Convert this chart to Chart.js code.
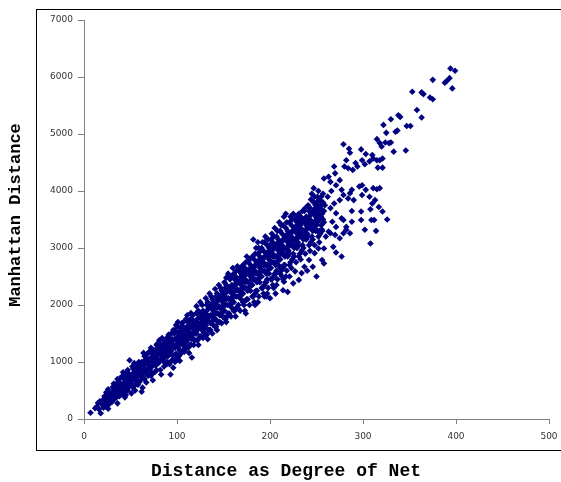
<!DOCTYPE html>
<html lang="en">
<head>
    <meta charset="UTF-8">
    <title>Manhattan Distance vs Degree of Net</title>
    <script src="https://cdn.jsdelivr.net/npm/chart.js"></script>
    <style>
        html, body { margin: 0; padding: 0; background: #fff; }
        canvas { display: block; }
    </style>
</head>
<body>
    <canvas id="scatterChart" width="561" height="482"></canvas>

    <script>
        // Axis ticks
        const xTicks = [0, 100, 200, 300, 400, 500];
        const yTicks = [0, 1000, 2000, 3000, 4000, 5000, 6000, 7000];
        const xTitle = 'Distance as Degree of Net';
        const yTitle = 'Manhattan Distance';

        // Points, [degree, manhattan]
        const bandLow = [
            [7,110],[12,190],[16,170],[18,100],[14,220],[19,260],[17,310],[20,330],[15,280],
            [22,275],[24,360],[26,245],[21,200],[23,310],[25,420],[27,330],[28,450],[29,380],[26,520],[22,400],[28,280],
            [30,300],[32,510],[36,275],[31,390],[33,450],[34,560],[35,620],[37,480],[38,400],[39,540],[36,700],[34,380],[38,650],[32,420],[39,720],
            [40,520],[41,610],[42,440],[43,700],[44,560],[45,780],[46,640],[47,500],[48,720],[49,1030],[47,860],[45,420],[43,480],[49,600],[41,750],[46,820],[44,380],[48,560],
            [50,640],[51,780],[52,560],[53,880],[54,700],[55,820],[56,620],[57,950],[58,760],[59,880],[55,500],[52,920],[57,680],[59,1000],[51,450],[54,980],[58,600],[53,740],[56,860],
            [60,780],[61,900],[62,480],[63,550],[64,1160],[62,1000],[63,820],[65,700],[66,960],[67,1080],[68,860],[69,760],[65,1020],[67,640],[68,1140],[61,680],[64,900],[66,800],[69,1000],[60,980],
            [70,880],[71,1040],[72,760],[73,1160],[74,940],[75,1100],[76,820],[77,1220],[78,1000],[79,1140],[72,1250],[74,680],[76,1050],[78,860],[79,1320],[71,920],[73,800],[75,960],[77,1060],[70,1180],[78,1200],
            [80,980],[81,1160],[82,860],[83,1300],[84,1060],[85,1200],[86,920],[87,1360],[88,1100],[89,1250],[81,1380],[83,780],[85,1050],[87,1140],[89,960],[82,1240],[84,1420],[86,1300],[88,1000],[80,1280],[86,1120],[89,1420],
            [90,1100],[91,1300],[92,960],[93,780],[94,1200],[95,1400],[96,1050],[97,1500],[98,1250],[99,1150],[91,1480],[92,1160],[94,1020],[95,1300],[96,1560],[97,1120],[98,1400],[99,1650],[90,1380],[93,1260],[96,900],[98,1000],[94,1350]
        ];
        const bandMid = [
            [100,1280],[101,1450],[102,1100],[103,1600],[104,1320],[105,1500],[106,1200],[107,1700],[108,1400],[109,1250],[101,1700],[102,1380],[103,1020],[104,1540],[105,1160],[106,1620],[107,1300],[108,1560],[109,1450],[100,1060],[103,1480],[106,1380],[108,1180],
            [110,1350],[111,1560],[112,1250],[113,1700],[114,1450],[115,1600],[116,1080],[117,1820],[118,1500],[119,1380],[111,1820],[112,1460],[113,1160],[114,1650],[115,1300],[116,1500],[117,1620],[118,1720],[119,1560],[110,1240],[112,1640],[115,1760],[118,1300],[116,1400],
            [120,1500],[121,1700],[122,1380],[123,1900],[124,1600],[125,1780],[126,1450],[127,2000],[128,1650],[129,1520],[121,1980],[122,1560],[123,1300],[124,1820],[125,1450],[126,1700],[127,1850],[128,1900],[129,1760],[120,1680],[122,1850],[125,2050],[128,1420],[126,1580],
            [130,1600],[131,1850],[132,1480],[133,2050],[134,1720],[135,1950],[136,1560],[137,2150],[138,1800],[139,1650],[131,2120],[132,1700],[133,1400],[134,1950],[135,1560],[136,1820],[137,2000],[138,2100],[139,1900],[130,1780],[132,2000],[135,2200],[138,1500],[136,1680],
            [140,1750],[141,2000],[142,1620],[143,2200],[144,1850],[145,2100],[146,1700],[147,2300],[148,1950],[149,1800],[141,2280],[142,1850],[143,1560],[144,2100],[145,1700],[146,1950],[147,2150],[148,2250],[149,2050],[140,1950],[142,2150],[145,2350],[148,1680],[146,1820],
            [150,1900],[151,2150],[152,1750],[153,2350],[154,2000],[155,2250],[156,1850],[157,2450],[158,2100],[159,1950],[151,2400],[152,2000],[153,1700],[154,2250],[155,1850],[156,2100],[157,2300],[158,2500],[159,2200],[150,2100],[152,2300],[155,2550],[158,1800],[156,2000],[160,2650],
            [160,2050],[161,2300],[162,1900],[163,2500],[164,2150],[165,2400],[166,2000],[167,2600],[168,2250],[169,2100],[161,2550],[162,2150],[163,1800],[164,2400],[165,1950],[166,2250],[167,2450],[168,2650],[169,2350],[160,2250],[162,2450],[165,2680],[168,1900],[166,2150],[163,2350],[169,2550],
            [170,2200],[171,2450],[172,2000],[173,2650],[174,2300],[175,2550],[176,2100],[177,2750],[178,2400],[179,2250],[171,2700],[172,2300],[173,1900],[174,2550],[175,2100],[176,2400],[177,2600],[178,2800],[179,2500],[170,2400],[172,2600],[175,2850],[178,2000],[176,2250],[173,2450],[179,2700],[174,1850],
            [180,2350],[181,2600],[182,2150],[183,2800],[184,2450],[185,2700],[186,2250],[187,2900],[188,2550],[189,2400],[181,2850],[182,2450],[183,2050],[184,2700],[185,2250],[186,2550],[187,2750],[188,3000],[189,2650],[180,2550],[182,3150],[185,3000],[188,2150],[186,2400],[183,2600],[189,2850],[184,2000],[187,3100],
            [190,2500],[191,2750],[192,2300],[193,2950],[194,2600],[195,2850],[196,2400],[197,3050],[198,2700],[199,2550],[191,3000],[192,2600],[193,2200],[194,2850],[195,2400],[196,2700],[197,2900],[198,3150],[199,2800],[190,2700],[192,3100],[195,3200],[198,2300],[196,2550],[193,2750],[199,3000],[194,2150],[190,2950],[197,2450]
        ];
        const bandHigh = [
            [200,2650],[201,2900],[202,2450],[203,3100],[204,2750],[205,3000],[206,2550],[207,3200],[208,2850],[209,2700],[201,3150],[202,2750],[203,2350],[204,3000],[205,2550],[206,2850],[207,3050],[208,3300],[209,2950],[200,2850],[202,3250],[205,3350],[208,2450],[206,2700],[203,2900],[209,3150],[204,2300],[200,3050],[207,2600],[210,3450],
            [210,2800],[211,3050],[212,2600],[213,3250],[214,2900],[215,3150],[216,2700],[217,3350],[218,3000],[219,2850],[211,3300],[212,2900],[213,2500],[214,3150],[215,2700],[216,3000],[217,3200],[218,3450],[219,3100],[210,3000],[212,3400],[215,3550],[218,2600],[216,2850],[213,3050],[219,3300],[214,2450],[211,2650],[217,3600],
            [220,2950],[221,3200],[222,2750],[223,3400],[224,3050],[225,3300],[226,2850],[227,3500],[228,3150],[229,3000],[221,3450],[222,3050],[223,2650],[224,3300],[225,2900],[226,3150],[227,3350],[228,3550],[229,3250],[220,3150],[222,3550],[225,3600],[228,2750],[226,3000],[223,3200],[229,3450],
            [230,3100],[231,3350],[232,2900],[233,3550],[234,3200],[235,3450],[236,3000],[237,3650],[238,3300],[239,3150],[231,3600],[232,3200],[233,2800],[234,3450],[235,3050],[236,3300],[237,3500],[238,3700],[239,3400],[230,3300],[232,3500],[235,3650],[238,2900],[236,3150],[233,3350],
            [240,3250],[241,3500],[242,3050],[243,3700],[244,3350],[245,3600],[246,3150],[247,3800],[248,3450],[249,3300],[241,3750],[242,3350],[243,2950],[244,3600],[245,3200],[246,3450],[247,3650],[248,3900],[249,3550],[240,3450],[242,3650],[245,3950],[248,3050],[246,3300],[243,3500],[249,3750],[247,4050],[244,3850],
            [250,3400],[251,3650],[252,3200],[253,3850],[254,3500],[255,3750],[256,3300],[257,3950],[251,3900],[252,3500],[253,3100],[254,3700],[255,3400],[256,3600],[257,3800],[258,3650],[250,3600],[252,3750],[255,3550],[250,3800],[253,3300],[251,3450],[257,3500],[259,3750]
        ];
        const bandFill = [
            [21,330],[23,220],[25,300],[27,410],[29,330],[24,470],[26,180],
            [30,450],[31,560],[33,350],[35,480],[37,590],[39,460],[32,620],[36,400],[38,520],
            [40,600],[41,470],[43,620],[44,760],[46,520],[48,650],[49,780],[42,820],[45,580],[47,700],
            [50,720],[51,600],[53,800],[54,580],[56,720],[58,900],[59,640],[52,680],[55,940],[57,800],
            [60,860],[61,760],[63,940],[64,720],[66,880],[68,980],[69,880],[62,900],[65,1100],[67,820],
            [70,1000],[71,860],[72,1080],[74,1000],[75,1200],[77,940],[79,1060],[73,920],[76,1140],[78,1300],
            [80,1140],[81,1020],[82,1320],[83,1120],[85,1300],[86,1000],[88,1180],[89,1340],[84,1240],[87,1220],
            [90,1240],[91,1120],[92,1420],[93,1340],[95,1120],[96,1300],[97,1400],[99,1300],[94,1500],[98,1550],[90,1000],
            [100,1380],[101,1260],[102,1520],[104,1420],[105,1680],[106,1300],[107,1480],[109,1600],[103,1200],[108,1300],[100,1620],
            [110,1480],[111,1380],[112,1700],[113,1520],[114,1300],[116,1640],[117,1420],[119,1700],[115,1860],[118,1600],[110,1760],
            [120,1620],[121,1500],[122,1760],[123,1680],[124,1420],[126,1850],[127,1560],[129,1860],[125,1640],[128,1780],[121,1860],
            [130,1720],[131,1640],[132,1900],[133,1800],[134,1560],[136,1980],[137,1700],[139,2050],[135,1800],[138,1950],[131,1480],
            [140,1860],[141,1760],[142,2050],[143,1950],[144,1700],[146,2150],[147,1850],[149,2200],[145,1980],[148,2080],[141,1620],
            [150,2000],[151,1900],[152,2200],[153,2100],[154,1800],[156,2300],[157,2000],[159,2350],[155,2120],[158,2220],[151,1780],[153,2480],
            [160,2150],[161,2050],[162,2350],[163,2250],[164,1950],[166,2450],[167,2150],[169,2500],[165,2270],[168,2380],[161,1900],[164,2600],
            [170,2300],[171,2200],[172,2500],[173,2400],[174,2080],[176,2600],[177,2300],[179,2650],[175,2420],[178,2550],[171,2050],[174,2750],
            [180,2450],[181,2350],[182,2650],[183,2550],[184,2200],[186,2750],[187,2450],[189,2800],[185,2580],[188,2700],[181,2150],[184,2900],[187,2050],
            [190,2600],[191,2500],[192,2800],[193,2700],[194,2350],[196,2900],[197,2600],[199,2950],[195,2700],[198,2850],[191,2300],[194,3100],[197,2200],
            [200,2750],[201,2650],[202,2950],[203,2850],[204,2500],[206,3050],[207,2750],[209,3100],[205,2850],[208,3000],[201,2450],[204,3200],[207,2350],
            [210,2900],[211,2800],[212,3100],[213,2950],[214,2650],[216,3200],[217,2900],[219,3250],[215,3000],[218,3150],[211,2550],[214,3400],[217,2500],
            [220,3050],[221,2900],[222,3250],[223,3100],[224,2800],[226,3350],[227,3050],[229,3400],[225,3150],[228,3300],[221,2700],[224,3500],
            [230,3200],[231,3050],[232,3400],[233,3250],[234,2950],[236,3500],[237,3200],[239,3550],[235,3300],[238,3450],[231,2850],
            [240,3350],[241,3200],[242,3550],[243,3400],[244,3100],[246,3650],[247,3350],[249,3700],[245,3450],[248,3600],
            [250,3500],[251,3300],[252,3650],[253,3550],[254,3250],[256,3800],[257,3650],[255,3900],[258,3450],[252,4000]
        ];
        const lowerArm = [
            [196,2150],[200,2120],[206,2200],[214,2260],[219,2230],[215,2410],[221,2500],[227,2590],[231,2440],[237,2670],
            [242,2790],[246,2670],[248,2910],[252,2990],[256,2790],[258,2730],[250,2500],[234,2560],[225,2380],[240,2600]
        ];
        const splitCluster = [
            [258,4220],[265,4160],[271,4100],[277,4020],[279,3930],[275,3840],[269,3780],[265,3700],[271,3610],[277,3520],
            [267,3460],[271,3370],[265,3260],[275,3170],[279,3260],[282,3370],
            [296,4080],[299,4100],[303,4020],[299,3930],[307,3900],[311,4050],[315,4030],[318,4050],[313,3840],[310,3780],
            [317,3720],[321,3640],[326,3500],[308,3680],[298,3640],[298,3490],[309,3490],[312,3490],[302,3320],[314,3300],
            [308,3080],[288,4020],[286,3960],[290,3840],[284,3870],[288,3650],[288,3460],[279,3490],[282,3320],[286,3260],
            [277,2850],[271,2920],[268,3020],[270,3230],[263,3290],[260,3200],[256,3320],[258,2990],[262,3900],[266,4000]
        ];
        const upperTail = [
            [399,6110],[394,6150],[390,5930],[393,5980],[396,5800],[388,5900],[375,5950],[353,5740],[363,5730],[365,5700],
            [372,5640],[375,5610],[358,5420],[363,5290],[347,5140],[351,5140],[346,4710],[330,5260],[338,5330],[340,5300],
            [322,5160],[325,5020],[335,5040],[337,5060],[315,4910],[318,4840],[320,4780],[324,4850],[328,4840],[330,4850],
            [333,4690],[310,4630],[303,4650],[299,4540],[302,4470],[307,4520],[311,4570],[315,4540],[318,4540],[321,4570],
            [316,4410],[321,4410],[279,4820],[285,4740],[286,4670],[298,4730],[280,4430],[284,4400],[282,4540],[289,4370],
            [294,4430],[292,4490],[269,4430],[270,4310],[263,4250],[275,4190]
        ];

        const allPoints = [...bandLow, ...bandMid, ...bandHigh, ...bandFill, ...lowerArm, ...splitCluster, ...upperTail]
            .map(p => ({ x: p[0], y: p[1] }));

        // White page, black frame and the two monospace axis titles
        const framePlugin = {
            id: 'frame',
            beforeDraw(chart) {
                const c = chart.ctx;
                c.save();
                c.fillStyle = '#ffffff';
                c.fillRect(0, 0, chart.width, chart.height);
                c.restore();
            },
            afterDraw(chart) {
                const c = chart.ctx;
                c.save();
                c.strokeStyle = '#000000';
                c.lineWidth = 1;
                c.strokeRect(36.5, 9.5, 640, 441);

                c.fillStyle = '#000000';
                c.font = 'bold 18px "Liberation Mono", "Courier New", monospace';
                c.textAlign = 'center';
                c.textBaseline = 'alphabetic';
                c.fillText(xTitle, 286, 476);

                c.font = 'bold 17px "Liberation Mono", "Courier New", monospace';
                c.translate(20, 215);
                c.rotate(-Math.PI / 2);
                c.fillText(yTitle, 0, 0);
                c.restore();
            }
        };

        const tickFont = { family: '"DejaVu Sans", Verdana, sans-serif', size: 9 };

        new Chart(document.getElementById('scatterChart').getContext('2d'), {
            type: 'scatter',
            data: {
                datasets: [{
                    data: allPoints,
                    pointStyle: 'rectRot',
                    pointRadius: 3.3,
                    backgroundColor: '#000080',
                    borderColor: '#000080',
                    borderWidth: 0
                }]
            },
            options: {
                responsive: false,
                animation: false,
                layout: { padding: { left: 0, right: 12, top: 20, bottom: 0 } },
                plugins: {
                    legend: { display: false },
                    tooltip: { enabled: false }
                },
                scales: {
                    x: {
                        type: 'linear',
                        min: 0,
                        max: 500,
                        afterBuildTicks: s => { s.ticks = xTicks.map(v => ({ value: v })); },
                        afterFit: s => { s.height = 63; s.paddingLeft = 0; s.paddingRight = 0; },
                        ticks: { color: '#333333', font: tickFont, padding: 7, maxRotation: 0, callback: v => String(v) },
                        grid: { drawOnChartArea: false, tickLength: 5, color: '#808080' },
                        border: { color: '#808080', width: 1 }
                    },
                    y: {
                        type: 'linear',
                        min: 0,
                        max: 7000,
                        afterBuildTicks: s => { s.ticks = yTicks.map(v => ({ value: v })); },
                        afterFit: s => { s.width = 84; s.paddingTop = 0; s.paddingBottom = 0; },
                        ticks: { color: '#333333', font: tickFont, padding: 5, callback: v => String(v) },
                        grid: { drawOnChartArea: false, tickLength: 6, color: '#808080' },
                        border: { color: '#808080', width: 1 }
                    }
                }
            },
            plugins: [framePlugin]
        });
    </script>
</body>
</html>
